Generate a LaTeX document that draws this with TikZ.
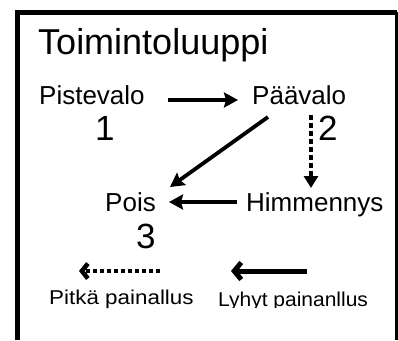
\documentclass[tikz,border=0pt]{standalone}
\usepackage{fontspec}
\setmainfont{Liberation Sans}
\usetikzlibrary{arrows.meta}
\begin{document}
\begin{tikzpicture}[x=1pt,y=-1pt,
  lbl/.style={inner sep=0pt,anchor=base west,font=\fontsize{26}{30}\selectfont},
  num/.style={inner sep=0pt,anchor=base west,font=\fontsize{35}{40}\selectfont},
  small/.style={inner sep=0pt,anchor=base west,font=\fontsize{20}{24}\selectfont},
  arr/.style={line width=3.8pt,-{Stealth[length=14pt,width=15pt,inset=2pt]}},
  darr/.style={line width=3.6pt,dash pattern=on 5pt off 3pt,-{Triangle[length=12pt,width=14pt]}},
  barb/.style={line width=5pt,-{Straight Barb[length=7pt,width=17pt,line width=5pt]}},
  dbarb/.style={line width=3.2pt,dash pattern=on 4.5pt off 2.5pt,-{Straight Barb[length=6pt,width=15pt,line width=4.5pt]}}]
\useasboundingbox (0,0) rectangle (398,340);
% frame
\draw[line width=5pt] (17,340) -- (17,12) -- (397,12);
\draw[line width=2.5pt] (396.5,12) -- (396.5,340);
% texts
\node[inner sep=0pt,anchor=base west,font=\fontsize{36}{40}\selectfont] (title) at (38,54) {Toimintoluuppi};
\node[lbl] (pist) at (39,104) {Pistevalo};
\node[lbl] (paa) at (252,104) {Päävalo};
\node[lbl] (pois) at (105,211) {Pois};
\node[lbl] (him) at (246,211) {Himmennys};
\node[num] (n1) at (95,140) {1};
\node[num] (n2) at (318,140) {2};
\node[num] (n3) at (136,248) {3};
\node[small,xscale=1.12] (pitka) at (49,304) {Pitkä painallus};
\begin{scope}
\clip (200,280) rectangle (390,307);
\node[small,xscale=1.05] (lyhyt) at (218,306) {Lyhyt painanllus};
\end{scope}
% connector end points
\coordinate (a1s) at (168,100);
\coordinate (a1e) at (238,100);
\coordinate (a2s) at (268,117);
\coordinate (a2e) at (170,187);
\coordinate (a3s) at (311,115);
\coordinate (a3e) at (311,188);
\coordinate (a4s) at (237,202);
\coordinate (a4e) at (169,202);
\coordinate (a5s) at (160,271);
\coordinate (a5e) at (79,271);
\coordinate (a6s) at (307,271);
\coordinate (a6e) at (231,271);
\draw[arr] (a1s) -- (a1e);
\draw[arr] (a2s) -- (a2e);
\draw[darr] (a3s) -- (a3e);
\draw[arr] (a4s) -- (a4e);
\draw[dbarb] (a5s) -- (a5e);
\draw[barb] (a6s) -- (a6e);
\end{tikzpicture}
\end{document}
